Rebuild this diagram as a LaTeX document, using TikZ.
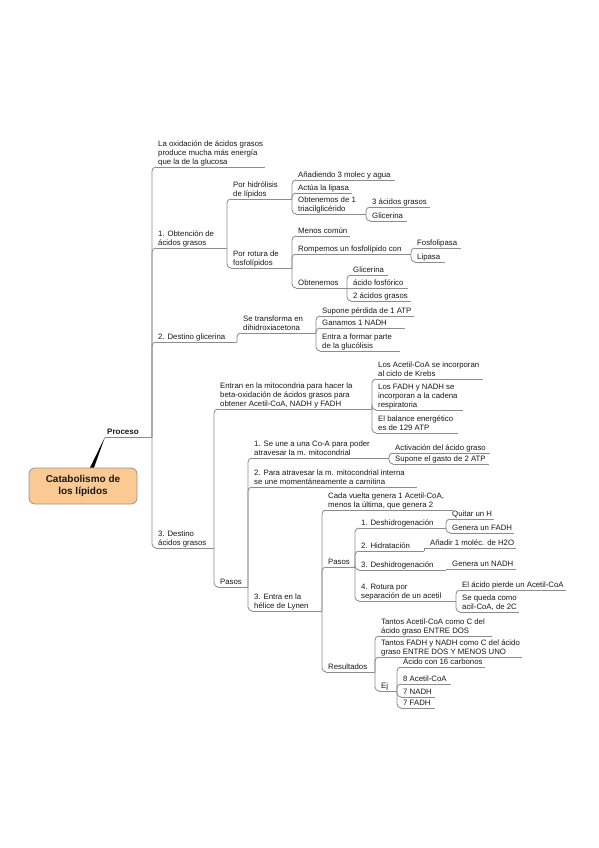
\documentclass[tikz,border=0pt]{standalone}
\usepackage{fontspec}
\setmainfont{Liberation Sans}
\usetikzlibrary{calc}
\definecolor{linec}{RGB}{140,140,140}
\definecolor{txtc}{RGB}{25,25,25}
\definecolor{peach}{RGB}{250,201,148}
\definecolor{rootedge}{RGB}{150,150,150}
\newcommand\tstrut{\rule[-1.7pt]{0pt}{1pt}}
\newcommand\mmtopic[6][]{%
  \node[topic,#1] (#2) at (#3,#4) {#6};
  \path let \p1=(#2.south east), \p2=(#2.south west) in
    coordinate (#2-e) at ({max(\x1,\x2+#5pt)},\y1);
  \draw[uline] (#2.south west) -- (#2-e);
}
\newcommand\mmlink[3][]{\draw[conn,#1] (#2-e) |- (#3.south west);}
\begin{document}
\begin{tikzpicture}[x=1pt,y=-1pt,
  uline/.style={draw=linec,line width=0.85pt},
  conn/.style={draw=linec,line width=0.85pt,rounded corners=4pt},
  topic/.style={anchor=south west,inner xsep=2pt,inner ysep=0.6pt,align=left,
    font=\fontsize{7.8}{9.2}\selectfont,text=txtc,execute at end node=\tstrut},
  rootbox/.style={draw=rootedge,line width=0.8pt,fill=peach,rounded corners=6pt,
    minimum width=108pt,minimum height=36pt,align=center,text=txtc,
    font=\bfseries\fontsize{10}{12}\selectfont},
  boldtopic/.style={font=\bfseries\fontsize{8}{9.2}\selectfont}]
\fill[white] (0,0) rectangle (599,848);
\useasboundingbox (0,0) rectangle (599,848);

% root
\node[rootbox] (root) at (83,486) {Catabolismo de\\los lípidos};
\mmtopic[boldtopic]{proc}{105}{437}{47}{Proceso}
\fill[black] ([xshift=7pt]root.north) -- ([xshift=11pt]root.north) -- (proc.south west) -- cycle;

% level 1
\mmtopic{a1}{156}{167}{107}{La oxidación de ácidos grasos\\produce mucha más energía\\que la de la glucosa}
\mmtopic{a2}{156}{248}{71}{1. Obtención de\\ácidos grasos}
\mmtopic{a3}{156}{342}{81}{2. Destino glicerina}
\mmtopic{a4}{156}{548}{58}{3. Destino\\ácidos grasos}

% 1. Obtención
\mmtopic{b1}{231}{199}{61}{Por hidrólisis\\de lípidos}
\mmtopic{b2}{231}{268}{61}{Por rotura de\\fosfolípidos}
\mmtopic{c1}{296}{180}{99}{Añadiendo 3 molec y agua}
\mmtopic{c2}{296}{193}{56}{Actúa la lipasa}
\mmtopic{c3}{296}{214}{70}{Obtenemos de 1\\triacilglicérido}
\mmtopic{d1}{370}{207}{60}{3 ácidos grasos}
\mmtopic{d2}{370}{221}{37}{Glicerina}
\mmtopic{c4}{296}{236}{54}{Menos común}
\mmtopic{c5}{296}{254}{115}{Rompemos un fosfolípido con}
\mmtopic{c6}{296}{288}{51}{Obtenemos}
\mmtopic{d3}{415}{248}{46}{Fosfolipasa}
\mmtopic{d4}{415}{262}{30}{Lipasa}
\mmtopic{d5}{351}{275}{37}{Glicerina}
\mmtopic{d6}{351}{288}{57}{ácido fosfórico}
\mmtopic{d7}{351}{301}{60}{2 ácidos grasos}

% 2. Destino glicerina
\mmtopic{b3}{241}{333}{75}{Se transforma en\\dihidroxiacetona}
\mmtopic{e1}{320}{316}{92}{Supone pérdida de 1 ATP}
\mmtopic{e2}{320}{328}{85}{Ganamos 1 NADH}
\mmtopic{e3}{320}{351}{80}{Entra a formar parte\\de la glucólisis}

% 3. Destino ácidos grasos
\mmtopic{b4}{218}{409}{154}{Entran en la mitocondria para hacer la\\beta-oxidación de ácidos grasos para\\obtener Acetil-CoA, NADH y FADH}
\mmtopic{b5}{218}{587}{30}{Pasos}
\mmtopic{f1}{376}{379}{107}{Los Acetil-CoA se incorporan\\al ciclo de Krebs}
\mmtopic{f2}{376}{410}{87}{Los FADH y NADH se\\incorporan a la cadena\\respiratoria}
\mmtopic{f3}{376}{433}{82}{El balance energético\\es de 129 ATP}

\mmtopic{g1}{252}{458}{137}{1. Se une a una Co-A para poder\\atravesar la m. mitocondrial}
\mmtopic{g2}{252}{487}{165}{2. Para atravesar la m. mitocondrial interna\\se une momentáneamente a carnitina}
\mmtopic{g3}{252}{611}{70}{3. Entra en la\\hélice de Lynen}
\mmtopic{ga}{393}{453}{97}{Activación del ácido graso}
\mmtopic{gb}{393}{464}{96}{Supone el gasto de 2 ATP}

\mmtopic{i1}{326}{510}{127}{Cada vuelta genera 1 Acetil-CoA,\\menos la última, que genera 2}
\mmtopic{i2}{326}{567}{29}{Pasos}
\mmtopic{i3}{326}{672}{49}{Resultados}

\mmtopic{j1}{359}{528}{87}{1. Deshidrogenación}
\mmtopic{j2}{359}{551}{65}{2. Hidratación}
\mmtopic{j3}{359}{570}{87}{3. Deshidrogenación}
\mmtopic{j4}{359}{601}{97}{4. Rotura por\\separación de un acetil}
\mmtopic{k1}{450}{519}{44}{Quitar un H}
\mmtopic{k2}{450}{533}{58}{Genera un FADH}
\mmtopic{k3}{428}{548}{86}{Añadir 1 moléc. de H2O}
\mmtopic{k4}{450}{569}{62}{Genera un NADH}
\mmtopic{k5}{460}{590}{105}{El ácido pierde un Acetil-CoA}
\mmtopic{k6}{460}{612}{59}{Se queda como\\acil-CoA, de 2C}

\mmtopic{l1}{379}{636}{113}{Tantos Acetil-CoA como C del\\ácido graso ENTRE DOS}
\mmtopic{l2}{379}{657}{143}{Tantos FADH y NADH como C del ácido\\graso ENTRE DOS Y MENOS UNO}
\mmtopic{l3}{379}{691}{18}{Ej}
\mmtopic{m1}{401}{667}{84}{Ácido con 16 carbonos}
\mmtopic{m2}{401}{684}{50}{8 Acetil-CoA}
\mmtopic{m3}{401}{697}{34}{7 NADH}
\mmtopic{m4}{401}{708}{34}{7 FADH}

% connectors
\mmlink{proc}{a1}\mmlink{proc}{a2}\mmlink{proc}{a3}\mmlink{proc}{a4}
\mmlink{a2}{b1}\mmlink{a2}{b2}
\mmlink{b1}{c1}\mmlink{b1}{c2}\mmlink{b1}{c3}
\mmlink{c3}{d1}\mmlink{c3}{d2}
\mmlink{b2}{c4}\mmlink{b2}{c5}\mmlink{b2}{c6}
\mmlink{c5}{d3}\mmlink{c5}{d4}
\mmlink{c6}{d5}\mmlink[sharp corners]{c6}{d6}\mmlink{c6}{d7}
\mmlink{a3}{b3}
\mmlink{b3}{e1}\mmlink{b3}{e2}\mmlink{b3}{e3}
\mmlink{a4}{b4}\mmlink{a4}{b5}
\mmlink{b4}{f1}\mmlink{b4}{f2}\mmlink{b4}{f3}
\mmlink{b5}{g1}\mmlink{b5}{g2}\mmlink{b5}{g3}
\mmlink{g1}{ga}\mmlink{g1}{gb}
\mmlink{g3}{i1}\mmlink{g3}{i2}\mmlink{g3}{i3}
\mmlink{i2}{j1}\mmlink{i2}{j2}\mmlink{i2}{j3}\mmlink{i2}{j4}
\mmlink{j1}{k1}\mmlink{j1}{k2}
\mmlink[sharp corners]{j2}{k3}
\mmlink[sharp corners]{j3}{k4}
\mmlink{j4}{k5}\mmlink{j4}{k6}
\mmlink{i3}{l1}\mmlink{i3}{l2}\mmlink{i3}{l3}
\mmlink{l3}{m1}\mmlink{l3}{m2}\mmlink{l3}{m3}\mmlink{l3}{m4}
\end{tikzpicture}
\end{document}
